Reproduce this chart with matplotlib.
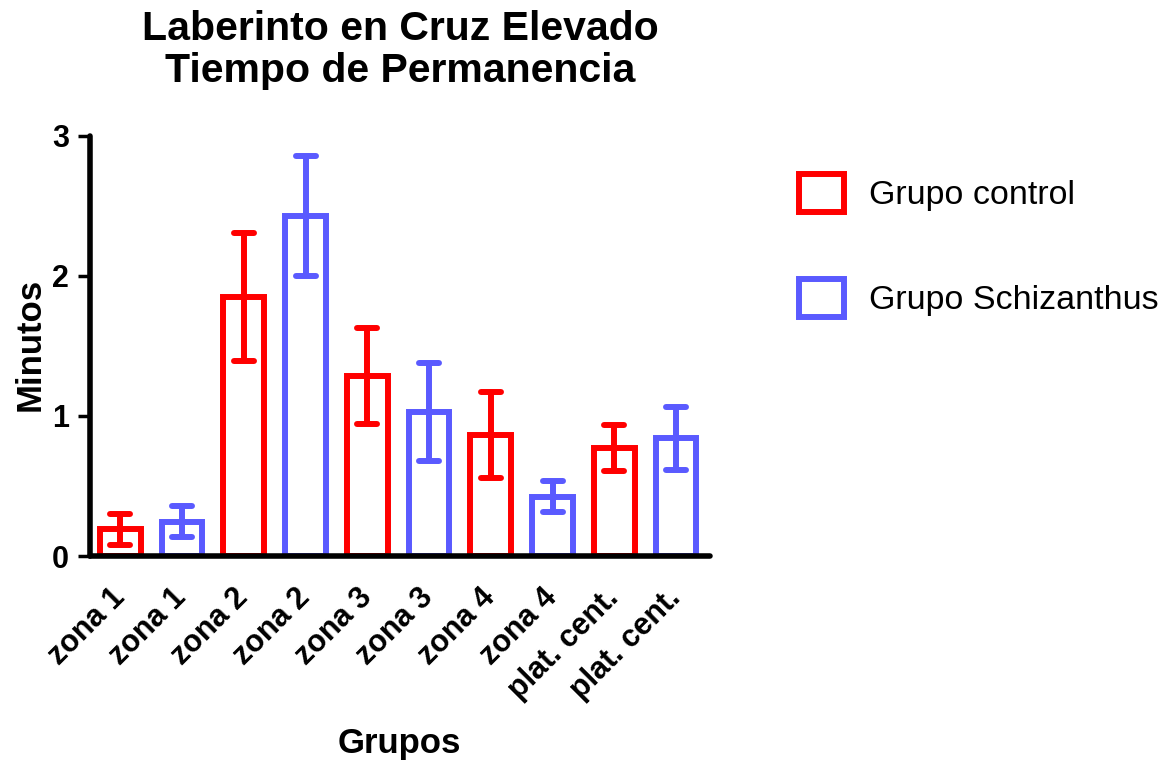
import numpy as np
import matplotlib.pyplot as plt
from matplotlib.patches import Patch
from matplotlib.markers import MarkerStyle

plt.rcParams['font.family'] = ['Liberation Sans', 'DejaVu Sans']

# Datos (minutos)
etiquetas = ["zona 1", "zona 1", "zona 2", "zona 2", "zona 3", "zona 3",
             "zona 4", "zona 4", "plat. cent.", "plat. cent."]
grupo = ["control", "schiz"] * 5
medias = [0.19, 0.245, 1.85, 2.43, 1.285, 1.03, 0.865, 0.425, 0.77, 0.84]
errores = [0.11, 0.11, 0.46, 0.43, 0.34, 0.35, 0.31, 0.11, 0.165, 0.225]

rojo = "#ff0000"
azul = "#5a5aff"
colores = {"control": rojo, "schiz": azul}

fig = plt.figure(figsize=(11.73, 7.65), dpi=100)
ax = fig.add_axes([90/1173, 1-556/765, 620/1173, 420/765])

x = np.arange(len(medias))
for i in range(len(medias)):
    c = colores[grupo[i]]
    ax.bar(x[i], medias[i], width=0.66, facecolor="none", edgecolor=c,
           linewidth=4.3, zorder=2)
    _, caps, _ = ax.errorbar(x[i], medias[i], yerr=errores[i], color=c,
                             elinewidth=4.3, capsize=7.5, capthick=4.3,
                             fmt="none", zorder=3)
    for cap in caps:
        cap.set_marker(MarkerStyle("_", capstyle="round"))

ax.set_xlim(-0.49, 9.55)
ax.set_ylim(0, 3)
ax.set_yticks([0, 1, 2, 3])
ax.set_xticks(x)
ax.set_xticklabels(etiquetas, rotation=45, ha="right", va="center",
                   rotation_mode="anchor", fontsize=22, fontweight="bold")
ax.tick_params(axis="x", length=0, pad=27)
ax.tick_params(axis="y", length=9, width=2.5, pad=6, labelsize=22)
for lab in ax.get_yticklabels():
    lab.set_fontweight("bold")

ax.spines["top"].set_visible(False)
ax.spines["right"].set_visible(False)
for s in ["left", "bottom"]:
    ax.spines[s].set_linewidth(4)
    ax.spines[s].set_capstyle("round")

fig.text(400/1173, 1-50/765, "Laberinto en Cruz Elevado\nTiempo de Permanencia",
         ha="center", va="center", fontsize=29.5, fontweight="bold", linespacing=1.1)
fig.text(30/1173, 1-344/765, "Minutos", rotation=90, ha="center", va="center",
         fontsize=25, fontweight="bold")
fig.text(399/1173, 1-744/765, "Grupos", ha="center", va="center",
         fontsize=25, fontweight="bold")

handles = [Patch(facecolor="none", edgecolor=rojo, linewidth=4.3, label="Grupo control"),
           Patch(facecolor="none", edgecolor=azul, linewidth=4.3, label="Grupo Schizanthus")]
fig.legend(handles=handles, loc="upper left", bbox_to_anchor=(799/1173, 1-174/765),
           frameon=False, fontsize=24.5, handlelength=1.33, handleheight=1.33,
           handletextpad=0.72, labelspacing=1.98, borderpad=0, borderaxespad=0)

fig.savefig("out.png", dpi=100)
